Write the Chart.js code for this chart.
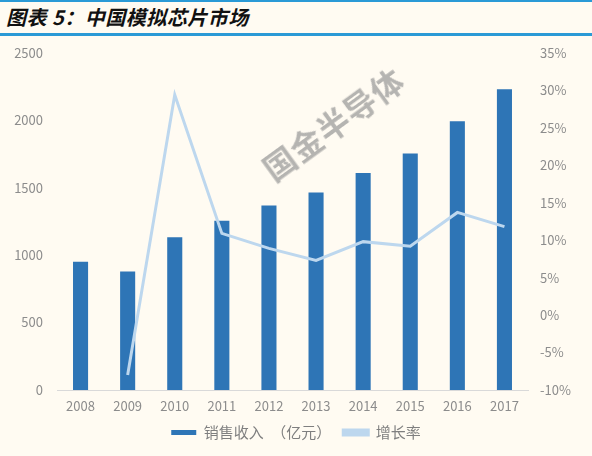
<!DOCTYPE html>
<html>
<head>
<meta charset="utf-8">
<script src="https://cdn.jsdelivr.net/npm/chart.js@4"></script>
<style>
  html, body { margin: 0; padding: 0; }
  body { width: 592px; height: 456px; background: #FFFBF2; position: relative; overflow: hidden;
         font-family: "Noto Sans CJK SC", "Noto Sans", sans-serif; }
  .rule { position: absolute; left: 0; width: 592px; background: #2A9AD6; }
  .title { position: absolute; left: 6px; top: 4px; font-size: 20px; font-weight: bold; font-style: italic;
           color: #111; letter-spacing: 0.5px; line-height: 26px; }
  .chart-box { position: absolute; left: 0; top: 31px; width: 592px; height: 419px; }
  .watermark { position: absolute; left: 250px; top: 100px; font-size: 32px; font-weight: bold;
               color: rgba(150,150,150,0.7); transform: rotate(-36deg); transform-origin: center;
               letter-spacing: 1px; pointer-events: none; }
</style>
</head>
<body>
<div class="rule" style="top:0;height:2px"></div>
<div class="title">图表 5：中国模拟芯片市场</div>
<div class="rule" style="top:33px;height:3px"></div>
<div class="chart-box"><canvas id="marketChart"></canvas></div>
<div class="watermark">国金半导体</div>

<script>
// Data
const years = ['2008', '2009', '2010', '2011', '2012', '2013', '2014', '2015', '2016', '2017'];
const revenue = [950, 878, 1133, 1255, 1367, 1464, 1608, 1753, 1992, 2230];
const growth = [null, -8.0, 29.4, 10.9, 8.9, 7.3, 9.8, 9.2, 13.7, 11.8];
const revenueTicks = [0, 500, 1000, 1500, 2000, 2500];
const growthTicks = [-10, -5, 0, 5, 10, 15, 20, 25, 30, 35];

const tickFont = { family: '"Noto Sans CJK SC", "Noto Sans", sans-serif', size: 13 };
const tickColor = '#8C8C8C';

const initMarketChart = () => {
    const ctx = document.getElementById('marketChart').getContext('2d');
    new Chart(ctx, {
        data: {
            labels: years,
            datasets: [{
                type: 'bar',
                label: '销售收入　（亿元）',
                data: revenue,
                backgroundColor: '#2E75B6',
                borderWidth: 0,
                barPercentage: 0.32,
                categoryPercentage: 1,
                yAxisID: 'y',
                order: 1
            }, {
                type: 'line',
                label: '增长率',
                data: growth,
                borderColor: '#BDD7EE',
                backgroundColor: '#BDD7EE',
                borderWidth: 3,
                pointRadius: 0,
                tension: 0,
                yAxisID: 'y1',
                order: 0
            }]
        },
        options: {
            responsive: true,
            maintainAspectRatio: false,
            animation: false,
            layout: { padding: { left: 0, right: 0, top: 4, bottom: 0 } },
            plugins: {
                tooltip: { enabled: false },
                legend: {
                    position: 'bottom',
                    labels: {
                        boxWidth: 25,
                        boxHeight: 5,
                        padding: 12,
                        color: '#7F7F7F',
                        font: { family: tickFont.family, size: 15 },
                        sort: (a, b) => a.datasetIndex - b.datasetIndex
                    }
                }
            },
            scales: {
                x: {
                    grid: { display: false, drawTicks: false },
                    border: { display: true, color: '#D9D9D9', width: 1 },
                    ticks: { color: tickColor, font: tickFont, padding: 8, maxRotation: 0 },
                    afterFit: scale => { scale.height = 23; }
                },
                y: {
                    position: 'left',
                    min: 0,
                    max: 2500,
                    afterBuildTicks: scale => { scale.ticks = revenueTicks.map(v => ({ value: v })); },
                    grid: { display: false, drawTicks: false },
                    border: { display: false },
                    ticks: { color: tickColor, font: tickFont, padding: 14, callback: v => String(v) },
                    afterFit: scale => { scale.width = 57; }
                },
                y1: {
                    position: 'right',
                    min: -10,
                    max: 35,
                    afterBuildTicks: scale => { scale.ticks = growthTicks.map(v => ({ value: v })); },
                    grid: { display: false, drawTicks: false },
                    border: { display: false },
                    ticks: { color: tickColor, font: tickFont, padding: 12, callback: v => v + '%' },
                    afterFit: scale => { scale.width = 64; }
                }
            }
        }
    });
};

document.addEventListener('DOMContentLoaded', () => {
    initMarketChart();
});
</script>
</body>
</html>
